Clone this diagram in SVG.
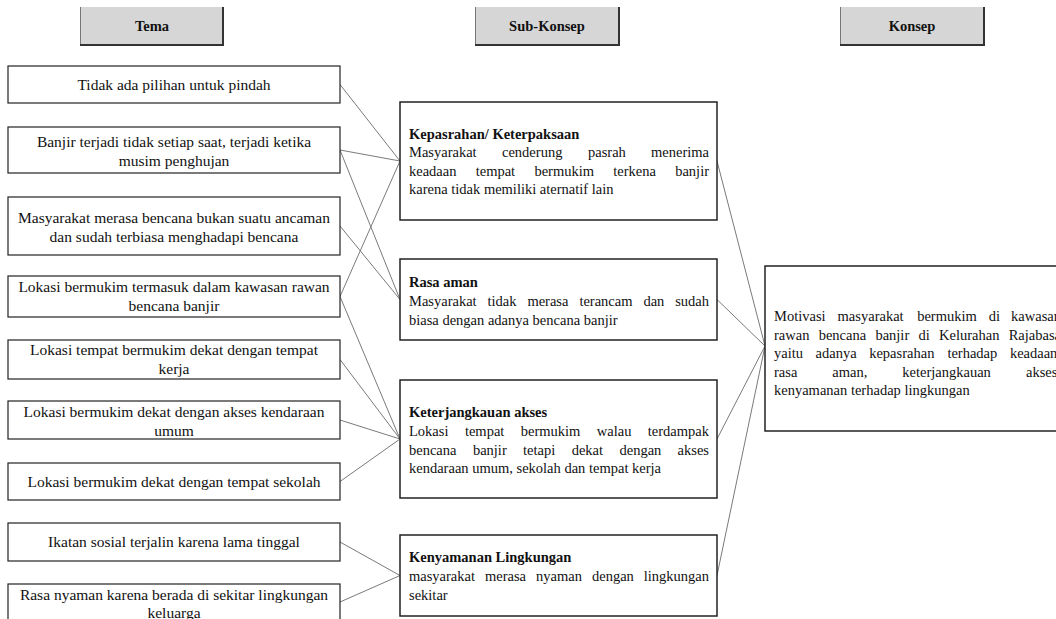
<svg xmlns="http://www.w3.org/2000/svg" width="1056" height="619" viewBox="0 0 1056 619" font-family="'Liberation Serif', Tinos, 'Times New Roman', 'DejaVu Serif', serif">
<style>
text{font-family:"Liberation Serif",Tinos,"Times New Roman","DejaVu Serif",serif;fill:#111}
.hdr rect{fill:#d6d6d6;stroke:none}
.hdr .l{stroke:#777;stroke-width:1;fill:none}
.hdr .rb{stroke:#333;stroke-width:2;fill:none}
.hdr text{font-size:14.5px;font-weight:bold;text-anchor:middle}
.tb rect{fill:#fff;stroke:#222;stroke-width:1.2}
.tb text{font-size:15.5px;text-anchor:middle}
.sb rect{fill:#fff;stroke:#222;stroke-width:1.5}
.sb text{font-size:14.5px}
.sb .t{font-weight:bold}
#connectors line{stroke:#7a7a7a;stroke-width:1}
</style>
<rect width="1056" height="619" fill="#fff"/>
<g id="connectors">
<line x1="340" y1="84.5" x2="400" y2="161"/>
<line x1="340" y1="150" x2="400" y2="161"/>
<line x1="340" y1="150" x2="400" y2="299.5"/>
<line x1="340" y1="226" x2="400" y2="299.5"/>
<line x1="340" y1="296.5" x2="400" y2="161"/>
<line x1="340" y1="296.5" x2="400" y2="439"/>
<line x1="340" y1="359.5" x2="400" y2="439"/>
<line x1="340" y1="420" x2="400" y2="439"/>
<line x1="340" y1="481.5" x2="400" y2="439"/>
<line x1="340" y1="542" x2="400" y2="575.5"/>
<line x1="340" y1="602" x2="400" y2="575.5"/>
<line x1="717" y1="161" x2="765" y2="346"/>
<line x1="717" y1="299.5" x2="765" y2="346"/>
<line x1="717" y1="439" x2="765" y2="346"/>
<line x1="717" y1="575.5" x2="765" y2="346"/>
</g>
<g id="hdr-tema" class="hdr">
<rect x="80" y="7" width="144" height="38"/>
<path class="l" d="M80.5,7V45"/>
<path class="rb" d="M223,7V45H80"/>
<text x="152" y="31">Tema</text>
</g>
<g id="hdr-subkonsep" class="hdr">
<rect x="475" y="7" width="145" height="38"/>
<path class="l" d="M475.5,7V45"/>
<path class="rb" d="M619,7V45H475"/>
<text x="547" y="31">Sub-Konsep</text>
</g>
<g id="hdr-konsep" class="hdr">
<rect x="840" y="7" width="145" height="38"/>
<path class="l" d="M840.5,7V45"/>
<path class="rb" d="M984,7V45H840"/>
<text x="912" y="31">Konsep</text>
</g>
<g id="tema1" class="tb"><rect x="8" y="66" width="332" height="37"/><text x="174" y="90">Tidak ada pilihan untuk pindah</text></g>
<g id="tema2" class="tb"><rect x="8" y="127" width="332" height="46"/><text x="174" y="146.5">Banjir terjadi tidak setiap saat, terjadi ketika</text><text x="174" y="166">musim penghujan</text></g>
<g id="tema3" class="tb"><rect x="8" y="197" width="332" height="58"/><text x="174" y="223">Masyarakat merasa bencana bukan suatu ancaman</text><text x="174" y="242">dan sudah terbiasa menghadapi bencana</text></g>
<g id="tema4" class="tb"><rect x="8" y="276" width="332" height="41"/><text x="174" y="292">Lokasi bermukim termasuk dalam kawasan rawan</text><text x="174" y="311">bencana banjir</text></g>
<g id="tema5" class="tb"><rect x="8" y="340" width="332" height="39"/><text x="174" y="355">Lokasi tempat bermukim dekat dengan tempat</text><text x="174" y="374">kerja</text></g>
<g id="tema6" class="tb"><rect x="8" y="401" width="332" height="38"/><text x="174" y="417">Lokasi bermukim dekat dengan akses kendaraan</text><text x="174" y="436">umum</text></g>
<g id="tema7" class="tb"><rect x="8" y="463" width="332" height="37"/><text x="174" y="487">Lokasi bermukim dekat dengan tempat sekolah</text></g>
<g id="tema8" class="tb"><rect x="8" y="523" width="332" height="38"/><text x="174" y="547">Ikatan sosial terjalin karena lama tinggal</text></g>
<g id="tema9" class="tb"><rect x="8" y="584" width="332" height="40"/><text x="174" y="600">Rasa nyaman karena berada di sekitar lingkungan</text><text x="174" y="618">keluarga</text></g>
<g id="sub-kepasrahan" class="sb">
<rect x="400" y="102" width="317" height="118"/>
<text class="t" x="409" y="139">Kepasrahan/ Keterpaksaan</text>
<text y="157"><tspan x="409">Masyarakat</tspan><tspan x="502">cenderung</tspan><tspan x="588">pasrah</tspan><tspan x="709" text-anchor="end">menerima</tspan></text>
<text y="175.5"><tspan x="409">keadaan</tspan><tspan x="475.7">tempat</tspan><tspan x="534.4">bermukim</tspan><tspan x="613.2">terkena</tspan><tspan x="709" text-anchor="end">banjir</tspan></text>
<text x="409" y="194">karena tidak memiliki aternatif lain</text>
</g>
<g id="sub-rasaaman" class="sb">
<rect x="400" y="259" width="317" height="81"/>
<text class="t" x="409" y="287">Rasa aman</text>
<text y="306"><tspan x="409">Masyarakat</tspan><tspan x="487.5">tidak</tspan><tspan x="527.4">merasa</tspan><tspan x="579.4">terancam</tspan><tspan x="643.4">dan</tspan><tspan x="709" text-anchor="end">sudah</tspan></text>
<text x="409" y="324.5">biasa dengan adanya bencana banjir</text>
</g>
<g id="sub-akses" class="sb">
<rect x="400" y="380" width="317" height="118"/>
<text class="t" x="409" y="417">Keterjangkauan akses</text>
<text y="436"><tspan x="409">Lokasi</tspan><tspan x="464.9">tempat</tspan><tspan x="520.8">bermukim</tspan><tspan x="596.8">walau</tspan><tspan x="709" text-anchor="end">terdampak</tspan></text>
<text y="454.5"><tspan x="409">bencana</tspan><tspan x="472.9">banjir</tspan><tspan x="523.1">tetapi</tspan><tspan x="571.7">dekat</tspan><tspan x="619.5">dengan</tspan><tspan x="709" text-anchor="end">akses</tspan></text>
<text x="409" y="473">kendaraan umum, sekolah dan tempat kerja</text>
</g>
<g id="sub-kenyamanan" class="sb">
<rect x="400" y="535" width="317" height="81"/>
<text class="t" x="409" y="562">Kenyamanan Lingkungan</text>
<text y="581"><tspan x="409">masyarakat</tspan><tspan x="485">merasa</tspan><tspan x="536.1">nyaman</tspan><tspan x="592">dengan</tspan><tspan x="709" text-anchor="end">lingkungan</tspan></text>
<text x="409" y="599.5">sekitar</text>
</g>
<g id="konsep" class="sb">
<rect x="765" y="266" width="320" height="165"/>
<text y="321"><tspan x="774">Motivasi</tspan><tspan x="837.6">masyarakat</tspan><tspan x="917.2">bermukim</tspan><tspan x="988.8">di</tspan><tspan x="1061" text-anchor="end">kawasan</tspan></text>
<text y="339.5"><tspan x="774">rawan</tspan><tspan x="818.7">bencana</tspan><tspan x="875.4">banjir</tspan><tspan x="918.5">di</tspan><tspan x="939">Kelurahan</tspan><tspan x="1061" text-anchor="end">Rajabasa</tspan></text>
<text y="358"><tspan x="774">yaitu</tspan><tspan x="815.6">adanya</tspan><tspan x="869.2">kepasrahan</tspan><tspan x="947.4">terhadap</tspan><tspan x="1061" text-anchor="end">keadaan,</tspan></text>
<text y="376.5"><tspan x="774">rasa</tspan><tspan x="832.3">aman,</tspan><tspan x="902.3">keterjangkauan</tspan><tspan x="1061" text-anchor="end">akses,</tspan></text>
<text x="774" y="395">kenyamanan terhadap lingkungan</text>
</g>
</svg>
